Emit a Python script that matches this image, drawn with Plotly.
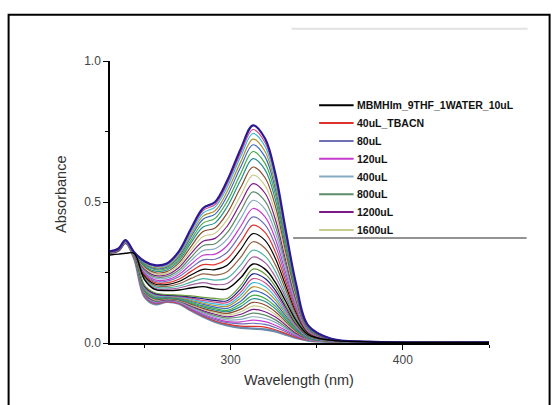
import plotly.graph_objects as go

# ---------------- data ----------------
WAVELENGTH = [230, 235, 239, 244, 250, 256, 263, 270, 277, 284, 291, 298,
              306, 313, 320, 326, 332, 338, 345, 358, 380, 450]

# lower family of spectra (band at 313 nm small)
LOWER_SPECTRA = [
    [.318, .328, .355, .300, .165, .138, .146, .140, .115, .093, .075, .063, .054, .051, .048, .041, .030, .018, .009, .004, .003, .002],
    [.318, .328, .355, .301, .167, .140, .147, .141, .117, .096, .078, .067, .060, .059, .056, .047, .034, .020, .010, .004, .003, .002],
    [.318, .328, .355, .302, .169, .142, .148, .143, .120, .099, .083, .072, .068, .070, .066, .055, .040, .023, .011, .004, .003, .002],
    [.318, .328, .355, .303, .171, .144, .150, .144, .122, .103, .087, .076, .075, .081, .076, .063, .045, .026, .012, .005, .003, .002],
    [.318, .328, .356, .304, .173, .146, .151, .146, .125, .107, .092, .082, .084, .093, .087, .073, .051, .029, .013, .005, .003, .002],
    [.319, .329, .356, .305, .175, .148, .153, .148, .129, .111, .097, .088, .093, .106, .099, .082, .057, .032, .014, .005, .003, .002],
    [.319, .329, .356, .306, .178, .151, .154, .150, .132, .115, .102, .093, .102, .119, .111, .092, .064, .035, .015, .006, .003, .002],
    [.319, .329, .356, .307, .180, .153, .156, .151, .135, .119, .107, .099, .111, .131, .123, .101, .070, .039, .016, .006, .003, .002],
    [.319, .329, .356, .308, .183, .156, .157, .153, .138, .123, .112, .105, .120, .144, .135, .111, .076, .042, .017, .006, .003, .002],
    [.319, .329, .357, .309, .185, .158, .159, .155, .141, .128, .117, .111, .130, .157, .147, .121, .083, .045, .018, .007, .004, .002],
    [.319, .329, .357, .310, .187, .160, .161, .157, .144, .132, .122, .116, .139, .169, .158, .130, .089, .048, .019, .007, .004, .002],
    [.320, .330, .357, .311, .190, .163, .162, .159, .148, .137, .127, .123, .149, .184, .172, .141, .096, .052, .020, .007, .004, .002],
    [.320, .330, .357, .313, .193, .166, .164, .161, .151, .141, .133, .130, .160, .199, .186, .152, .104, .056, .022, .008, .004, .002],
    [.320, .330, .358, .314, .196, .169, .166, .163, .155, .146, .139, .136, .170, .214, .200, .163, .111, .060, .023, .008, .004, .002],
    [.320, .330, .358, .315, .199, .172, .168, .165, .159, .151, .145, .143, .181, .228, .214, .175, .118, .063, .024, .008, .004, .002],
    [.320, .330, .358, .317, .202, .175, .170, .168, .163, .157, .151, .150, .193, .245, .229, .187, .127, .068, .026, .009, .004, .002],
    [.320, .330, .358, .318, .205, .178, .172, .170, .167, .162, .158, .158, .205, .262, .245, .200, .135, .072, .027, .009, .004, .002],
]

# starting spectrum (black, no 239 nm bump)
START_SPECTRUM = [.312, .315, .318, .318, .225, .190, .186, .188, .195, .200, .192, .192,
                  .232, .280, .262, .215, .148, .080, .030, .010, .004, .002]

# upper family of spectra (band at 313 nm grows)
UPPER_SPECTRA = [
    [.318, .326, .353, .318, .228, .194, .191, .195, .206, .214, .207, .211, .255, .305, .285, .234, .161, .087, .032, .010, .004, .002],
    [.319, .327, .353, .318, .232, .199, .196, .202, .216, .228, .223, .230, .278, .329, .308, .254, .173, .093, .033, .011, .004, .002],
    [.319, .327, .354, .319, .235, .204, .201, .210, .229, .245, .241, .253, .305, .359, .336, .277, .188, .101, .035, .011, .004, .002],
    [.320, .328, .355, .319, .239, .209, .207, .218, .241, .261, .260, .276, .333, .388, .364, .300, .203, .109, .037, .011, .004, .002],
    [.320, .329, .356, .319, .243, .214, .213, .226, .254, .278, .278, .299, .360, .418, .392, .323, .219, .116, .039, .012, .004, .002],
    [.320, .329, .356, .319, .247, .219, .219, .235, .266, .295, .297, .322, .388, .447, .419, .346, .234, .124, .041, .012, .004, .002],
    [.321, .330, .357, .320, .251, .224, .224, .243, .279, .311, .315, .345, .415, .477, .447, .369, .249, .132, .043, .012, .004, .002],
    [.321, .330, .358, .320, .255, .230, .230, .251, .292, .328, .334, .368, .443, .506, .475, .392, .264, .140, .045, .013, .004, .002],
    [.322, .331, .359, .320, .259, .235, .236, .259, .304, .345, .352, .391, .470, .536, .503, .415, .279, .148, .047, .013, .004, .002],
    [.322, .331, .360, .320, .263, .240, .242, .268, .317, .361, .371, .414, .498, .565, .531, .438, .294, .155, .049, .013, .005, .002],
    [.322, .332, .360, .321, .267, .245, .247, .276, .329, .378, .389, .437, .525, .595, .558, .461, .309, .163, .051, .014, .005, .002],
    [.323, .332, .361, .321, .271, .250, .253, .284, .342, .395, .408, .460, .553, .624, .586, .485, .324, .171, .052, .014, .005, .002],
    [.323, .333, .362, .321, .274, .255, .259, .292, .355, .411, .426, .483, .580, .654, .614, .508, .340, .179, .054, .015, .005, .002],
    [.324, .333, .362, .321, .278, .260, .264, .299, .365, .425, .442, .502, .603, .679, .637, .527, .352, .185, .056, .015, .005, .002],
    [.324, .334, .363, .321, .281, .264, .269, .306, .376, .439, .457, .521, .626, .703, .660, .546, .365, .192, .058, .015, .005, .002],
    [.324, .334, .364, .322, .284, .267, .272, .311, .384, .450, .469, .537, .644, .723, .679, .562, .375, .197, .059, .015, .005, .002],
    [.325, .334, .364, .322, .286, .271, .276, .317, .392, .461, .482, .552, .663, .743, .697, .577, .385, .202, .060, .016, .005, .002],
    [.325, .335, .365, .322, .288, .273, .279, .321, .399, .470, .491, .564, .676, .757, .711, .589, .392, .206, .061, .016, .005, .002],
    [.325, .335, .365, .322, .290, .276, .282, .325, .405, .478, .500, .575, .690, .772, .725, .600, .400, .210, .062, .016, .005, .002],
]

LEGEND_LABELS = ["MBMHIm_9THF_1WATER_10uL", "40uL_TBACN", "80uL", "120uL",
                 "400uL", "800uL", "1200uL", "1600uL"]
LEGEND_COLORS = ["#000000", "#e0322c", "#6e70b6", "#c43ccc",
                 "#86aac4", "#5e8c6a", "#7c1a88", "#c8cc8e"]

CURVE_COLORS = ["#e0322c", "#6e70b6", "#c43ccc", "#86aac4", "#5e8c6a", "#7c1a88",
                "#c8cc8e", "#8b4a2b", "#2a8c8c", "#44aa44", "#3a66c4", "#b0902a",
                "#33bbdd", "#d04a8a", "#1a1a7a", "#6a9a3a", "#a05aa0", "#4ab0a0",
                "#906040", "#000000"]
BOTTOM_COLOR = "#6a88aa"
TOP_COLOR = "#2c1a92"

FONT = "Liberation Sans, Arial, sans-serif"

# ---------------- figure ----------------
fig = go.Figure()

k = 0
for i, ys in enumerate(LOWER_SPECTRA):
    if i == 0:
        col, w = BOTTOM_COLOR, 2.4
    else:
        col, w = CURVE_COLORS[k % len(CURVE_COLORS)], 1.2
        k += 1
    fig.add_trace(go.Scatter(x=WAVELENGTH, y=ys, mode="lines",
                             line=dict(color=col, width=w, shape="spline"),
                             showlegend=False, hoverinfo="skip"))

for i, ys in enumerate(UPPER_SPECTRA):
    if i == len(UPPER_SPECTRA) - 1:
        col, w = TOP_COLOR, 2.2
    else:
        col, w = CURVE_COLORS[k % len(CURVE_COLORS)], 1.2
        k += 1
    fig.add_trace(go.Scatter(x=WAVELENGTH, y=ys, mode="lines",
                             line=dict(color=col, width=w, shape="spline"),
                             showlegend=False, hoverinfo="skip"))

fig.add_trace(go.Scatter(x=WAVELENGTH, y=START_SPECTRUM, mode="lines",
                         line=dict(color="#000000", width=1.4, shape="spline"),
                         showlegend=False, hoverinfo="skip"))

# plot-area geometry in pixels
W, H = 555, 405
L, R, T, B = 110.4, 489.4, 60.7, 342.7


def px_x(p):
    return (p - L) / (R - L)


def px_y(p):
    return (B - p) / (B - T)


shapes = []
annotations = []

# manual legend
for i, (lab, col) in enumerate(zip(LEGEND_LABELS, LEGEND_COLORS)):
    yy = px_y(105 + 17.8 * i)
    shapes.append(dict(type="line", xref="paper", yref="paper",
                       x0=px_x(319.5), x1=px_x(354), y0=yy, y1=yy,
                       line=dict(color=col, width=2)))
    annotations.append(dict(xref="paper", yref="paper", x=px_x(355.5), y=yy,
                            xanchor="left", yanchor="middle", showarrow=False,
                            text="<b>%s</b>" % lab,
                            font=dict(family=FONT, size=10.5, color="#111111")))

# frame lines of the legend box (as in the picture)
shapes.append(dict(type="line", xref="paper", yref="paper",
                   x0=px_x(293.5), x1=px_x(527), y0=px_y(237.8), y1=px_y(237.8),
                   line=dict(color="#6e6e6e", width=1.5)))
shapes.append(dict(type="line", xref="paper", yref="paper",
                   x0=px_x(292), x1=px_x(528), y0=px_y(28.5), y1=px_y(28.5),
                   line=dict(color="#e2e2e2", width=2)))
# outer image border
shapes.append(dict(type="rect", xref="paper", yref="paper",
                   x0=px_x(9), x1=px_x(550), y0=px_y(14.5), y1=px_y(420),
                   line=dict(color="#000000", width=2), fillcolor="rgba(0,0,0,0)"))

# axis titles
annotations.append(dict(xref="paper", yref="paper", x=px_x(62), y=px_y(194),
                        text="Absorbance", textangle=-90, showarrow=False,
                        xanchor="center", yanchor="middle",
                        font=dict(family=FONT, size=14.5, color="#333333")))
annotations.append(dict(xref="paper", yref="paper", x=px_x(299), y=px_y(380),
                        text="Wavelength (nm)", showarrow=False,
                        xanchor="center", yanchor="middle",
                        font=dict(family=FONT, size=14.5, color="#333333")))

fig.update_layout(
    width=W, height=H,
    margin=dict(l=L, r=W - R, t=T, b=H - B, pad=0),
    paper_bgcolor="white", plot_bgcolor="white",
    font=dict(family=FONT),
    shapes=shapes, annotations=annotations,
    showlegend=False,
)
fig.update_xaxes(range=[230, 450], showline=True, linecolor="#000000", linewidth=1.5,
                 showgrid=False, zeroline=False, ticks="outside", ticklen=5,
                 tickwidth=1.2, tickcolor="#000000",
                 tickvals=[300, 400], ticktext=["300", "400"],
                 tickfont=dict(family=FONT, size=12, color="#444444"),
                 minor=dict(tickvals=[250, 350, 450], ticks="outside", ticklen=3,
                            tickcolor="#000000", tickwidth=1.2, showgrid=False))
fig.update_yaxes(range=[0, 1.0], showline=True, linecolor="#000000", linewidth=1.5,
                 showgrid=False, zeroline=False, ticks="outside", ticklen=5,
                 tickwidth=1.2, tickcolor="#000000",
                 tickvals=[0, 0.5, 1.0], ticktext=["0.0", "0.5", "1.0"],
                 tickfont=dict(family=FONT, size=12, color="#444444"),
                 minor=dict(tickvals=[0.25, 0.75], ticks="outside", ticklen=3,
                            tickcolor="#000000", tickwidth=1.2, showgrid=False))

fig.write_html("out.html")
